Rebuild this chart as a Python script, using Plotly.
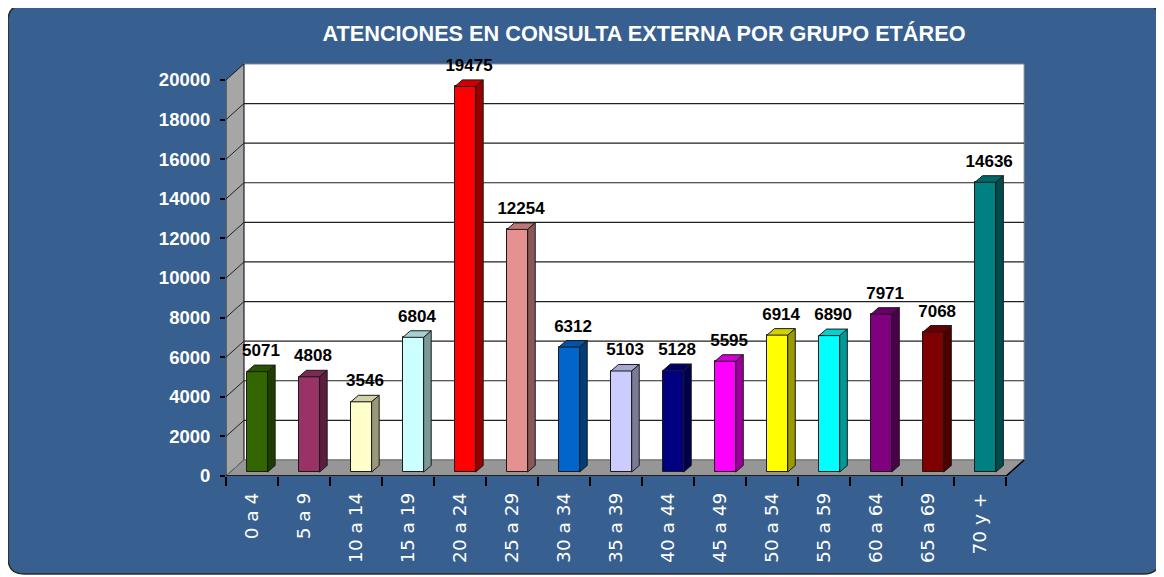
import plotly.graph_objects as go

# datos
grupos = ['0 a 4', '5 a 9', '10 a 14', '15 a 19', '20 a 24', '25 a 29', '30 a 34',
          '35 a 39', '40 a 44', '45 a 49', '50 a 54', '55 a 59', '60 a 64', '65 a 69', '70 y +']
atenciones = [5071, 4808, 3546, 6804, 19475, 12254, 6312, 5103, 5128, 5595,
              6914, 6890, 7971, 7068, 14636]
colores = ['#336600', '#993366', '#FFFFCC', '#CCFFFF', '#FF0000', '#E69191', '#0066CC',
           '#CCCCFF', '#000080', '#FF00FF', '#FFFF00', '#00FFFF', '#800080', '#800000', '#008080']
y_ticks = [0, 2000, 4000, 6000, 8000, 10000, 12000, 14000, 16000, 18000, 20000]

# 3D look
WALL_DX, WALL_DY = 0.345, 810      # depth of walls (axis units)
BAR_DX, BAR_DY = 0.145, 330        # depth of each bar
BAR_BASE, BAR_OFF, BAR_W = 200, 0.6, 0.40
N = len(grupos)
YMAX = y_ticks[-1]

# page has an 8px body margin, so the figure is 8px smaller
W, H = 1156, 569
ML, MR, MT, MB = 218, 137, 48, 101
Y_TOP_PX = 72                      # pixel row of the 20000 tick
BLUE = '#375F8F'


def shade(hex_color, f):
    r, g, b = (int(hex_color[i:i + 2], 16) for i in (1, 3, 5))
    return 'rgb(%d,%d,%d)' % (r * f, g * f, b * f)


def to_paper(px, py):
    return (px - ML) / (W - ML - MR), (H - MB - py) / (H - MT - MB)


fig = go.Figure()

# front faces
fig.add_trace(go.Bar(
    x=[i + BAR_OFF for i in range(N)], y=atenciones, base=[BAR_BASE] * N, width=BAR_W,
    marker=dict(color=colores, line=dict(color='#1a1a1a', width=1)),
    hoverinfo='skip', showlegend=False))

# top and side faces
for i, (v, c) in enumerate(zip(atenciones, colores)):
    x0 = i + BAR_OFF - BAR_W / 2
    x1 = i + BAR_OFF + BAR_W / 2
    top = v + BAR_BASE
    fig.add_trace(go.Scatter(
        x=[x0, x0 + BAR_DX, x1 + BAR_DX, x1, x0],
        y=[top, top + BAR_DY, top + BAR_DY, top, top],
        fill='toself', fillcolor=shade(c, 0.82), mode='lines',
        line=dict(color='#1a1a1a', width=1), hoverinfo='skip', showlegend=False))
    fig.add_trace(go.Scatter(
        x=[x1, x1 + BAR_DX, x1 + BAR_DX, x1, x1],
        y=[BAR_BASE, BAR_BASE + BAR_DY, top + BAR_DY, top, BAR_BASE],
        fill='toself', fillcolor=shade(c, 0.6), mode='lines',
        line=dict(color='#1a1a1a', width=1), hoverinfo='skip', showlegend=False))

# value labels
fig.add_trace(go.Scatter(
    x=[i + BAR_OFF + BAR_DX / 2 for i in range(N)],
    y=[v + BAR_BASE + 1000 for v in atenciones],
    text=[str(v) for v in atenciones], mode='text',
    textfont=dict(family='Liberation Sans Narrow, Arial Narrow, Liberation Sans', size=17,
                  color='black', weight='bold'),
    hoverinfo='skip', showlegend=False))

shapes = []
# rounded blue panel
r = 16
lx, ty = to_paper(0, -3)
rx, by = to_paper(1152, 566)
rdx = r / (W - ML - MR)
rdy = r / (H - MT - MB)
path = (f'M {lx + rdx},{ty} L {rx - rdx},{ty} Q {rx},{ty} {rx},{ty - rdy} '
        f'L {rx},{by + rdy} Q {rx},{by} {rx - rdx},{by} '
        f'L {lx + rdx},{by} Q {lx},{by} {lx},{by + rdy} '
        f'L {lx},{ty - rdy} Q {lx},{ty} {lx + rdx},{ty} Z')
shapes.append(dict(type='path', xref='paper', yref='paper', path=path, layer='below',
                   fillcolor=BLUE, line=dict(color='#2a2a2a', width=1.5)))

# back wall
shapes.append(dict(type='rect', xref='x', yref='y', x0=WALL_DX, x1=N + WALL_DX,
                   y0=WALL_DY, y1=YMAX + WALL_DY, fillcolor='white',
                   line=dict(color='#808080', width=1), layer='below'))
# left wall
shapes.append(dict(type='path', xref='x', yref='y', layer='below',
                   path=f'M 0,0 L 0,{YMAX} L {WALL_DX},{YMAX + WALL_DY} L {WALL_DX},{WALL_DY} Z',
                   fillcolor='#A6A6A6', line=dict(color='#1a1a1a', width=1)))
# floor
shapes.append(dict(type='path', xref='x', yref='y', layer='below',
                   path=f'M 0,0 L {N},0 L {N + WALL_DX},{WALL_DY} L {WALL_DX},{WALL_DY} Z',
                   fillcolor='#969696', line=dict(color='#6a6a6a', width=1)))
# gridlines on the walls
for v in y_ticks[1:-1]:
    shapes.append(dict(type='line', xref='x', yref='y', layer='below',
                       x0=WALL_DX, x1=N + WALL_DX, y0=v + WALL_DY, y1=v + WALL_DY,
                       line=dict(color='#222222', width=1.2)))
    shapes.append(dict(type='line', xref='x', yref='y', layer='below',
                       x0=0, x1=WALL_DX, y0=v, y1=v + WALL_DY,
                       line=dict(color='#222222', width=1)))
# floor front edges
shapes.append(dict(type='line', xref='x', yref='y', layer='below', x0=0, x1=N, y0=0, y1=0,
                   line=dict(color='black', width=1.5)))
shapes.append(dict(type='line', xref='x', yref='y', layer='below', x0=N, x1=N + WALL_DX,
                   y0=0, y1=WALL_DY, line=dict(color='black', width=1.5)))

fig.update_layout(
    width=W, height=H,
    margin=dict(l=ML, r=MR, t=MT, b=MB),
    paper_bgcolor='white', plot_bgcolor='rgba(0,0,0,0)',
    shapes=shapes,
    title=dict(text='ATENCIONES EN CONSULTA EXTERNA POR GRUPO ETÁREO',
               x=636 / W, xanchor='center', y=1 - 25 / H, yanchor='middle',
               font=dict(family='Liberation Sans', size=21.7, color='white', weight='bold')),
    xaxis=dict(range=[0, N + 0.4], tickvals=[i + 0.5 for i in range(N)], ticktext=grupos,
               ticks='', tickangle=-90, ticklabelstandoff=12,
               tickfont=dict(family='DejaVu Sans', size=18.5, color='white'),
               minor=dict(tickvals=list(range(N + 1)), ticks='outside', ticklen=9,
                          tickcolor='black', tickwidth=1.5),
               showgrid=False, zeroline=False, showline=False, fixedrange=True),
    yaxis=dict(range=[0, (H - MT - MB) / ((H - MB - Y_TOP_PX) / YMAX)],
               tickvals=y_ticks, ticktext=[str(t) for t in y_ticks],
               ticks='outside', ticklen=5, tickcolor='black', tickwidth=1.5,
               ticklabelstandoff=6,
               tickfont=dict(family='Liberation Sans', size=18.5, color='white', weight='bold'),
               showgrid=False, zeroline=False, showline=False, fixedrange=True),
    bargap=0,
)

fig.write_html('out.html')
